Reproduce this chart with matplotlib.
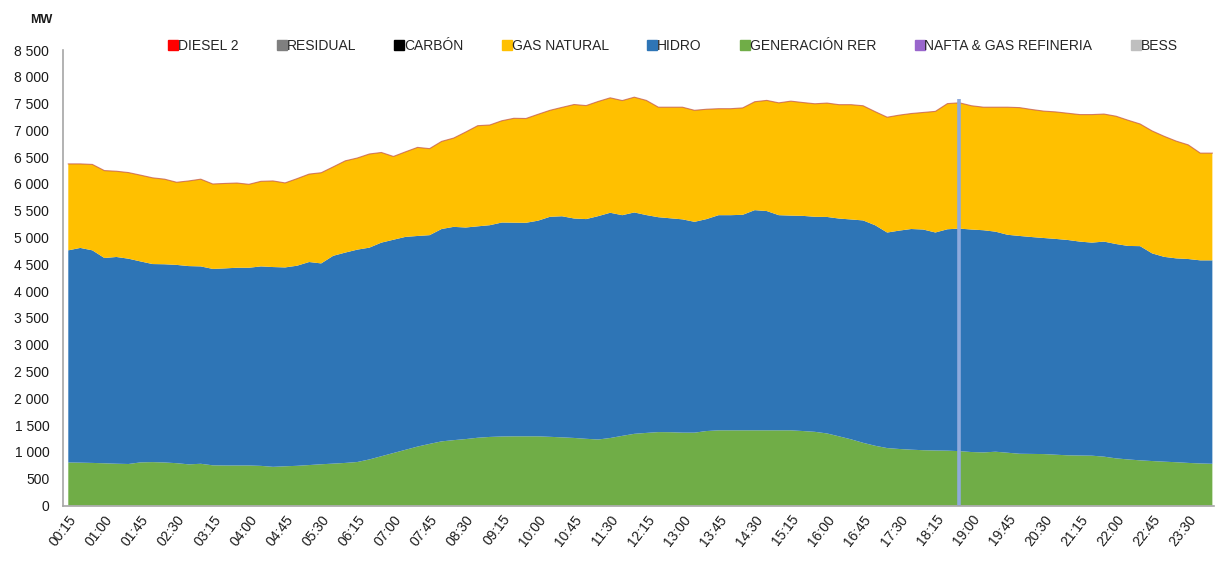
import matplotlib
matplotlib.use("Agg")
import matplotlib.pyplot as plt
from matplotlib.lines import Line2D
from matplotlib.ticker import FuncFormatter

plt.rcParams['font.family'] = ['Liberation Sans', 'DejaVu Sans']

# cuartos de hora 00:15 ... 24:00
horas = [f"{(m // 60):02d}:{(m % 60):02d}" for m in range(15, 24 * 60 + 15, 15)]

# MW por tecnologia (lectura del grafico)
rer = [803, 800, 795, 788, 780, 775, 805, 810, 803, 790, 768, 779, 750, 747, 747, 747,
       740, 722, 732, 741, 755, 770, 782, 795, 812, 860, 920, 980, 1040, 1100, 1150, 1197,
       1220, 1240, 1265, 1280, 1288, 1291, 1291, 1291, 1282, 1272, 1261, 1245, 1232, 1260, 1300, 1338,
       1355, 1370, 1368, 1360, 1360, 1390, 1403, 1403, 1403, 1403, 1403, 1403, 1403, 1390, 1375, 1345,
       1291, 1235, 1170, 1115, 1072, 1055, 1042, 1032, 1027, 1024, 1015, 998, 991, 1004, 985, 966,
       963, 960, 948, 937, 933, 930, 912, 880, 860, 843, 830, 818, 808, 795, 785, 779]
hidro = [3959, 4007, 3967, 3831, 3858, 3831, 3750, 3696, 3699, 3700, 3700, 3683, 3665, 3678, 3690, 3690,
         3722, 3728, 3711, 3734, 3789, 3748, 3878, 3925, 3963, 3952, 3986, 3980, 3973, 3930, 3895, 3963,
         3980, 3948, 3945, 3951, 3993, 3987, 3985, 4024, 4106, 4126, 4095, 4100, 4168, 4203, 4118, 4131,
         4065, 4010, 3992, 3980, 3934, 3955, 4015, 4015, 4022, 4109, 4092, 4015, 4007, 4015, 4013, 4040,
         4064, 4103, 4150, 4115, 4022, 4075, 4118, 4118, 4068, 4131, 4153, 4152, 4146, 4106, 4067, 4064,
         4047, 4032, 4027, 4018, 3992, 3976, 4013, 4000, 3984, 3997, 3875, 3822, 3804, 3805, 3790, 3796]
gas = [1613, 1568, 1603, 1631, 1600, 1607, 1610, 1609, 1588, 1542, 1589, 1628, 1585, 1585, 1581, 1557,
       1588, 1607, 1577, 1625, 1641, 1692, 1660, 1712, 1710, 1748, 1682, 1554, 1587, 1653, 1615, 1635,
       1657, 1782, 1878, 1870, 1899, 1948, 1946, 1985, 1987, 2032, 2127, 2118, 2140, 2145, 2139, 2151,
       2140, 2053, 2073, 2093, 2081, 2050, 1987, 1987, 1995, 2023, 2065, 2096, 2136, 2115, 2109, 2125,
       2125, 2142, 2140, 2120, 2152, 2155, 2155, 2185, 2260, 2345, 2347, 2310, 2296, 2323, 2381, 2395,
       2380, 2368, 2370, 2365, 2370, 2389, 2380, 2385, 2346, 2280, 2285, 2250, 2188, 2130, 2001, 2001]

leyenda = ["DIESEL 2", "RESIDUAL", "CARBÓN", "GAS NATURAL", "HIDRO",
           "GENERACIÓN RER", "NAFTA & GAS REFINERIA", "BESS"]
colores = ["#ff0000", "#7f7f7f", "#000000", "#ffc000", "#2e75b6",
           "#70ad47", "#9966cc", "#bfbfbf"]

hora_marca = "18:45"

x = list(range(len(horas)))
total = [a + b + c for a, b, c in zip(rer, hidro, gas)]

fig = plt.figure(figsize=(12.16, 5.62), dpi=100)
ax = fig.add_axes([0.052, 0.1005, 0.946, 0.8105])

ax.stackplot(x, rer, hidro, gas, colors=["#70ad47", "#2e75b6", "#ffc000"], linewidth=0)
ax.plot(x, total, color="#c0504d", lw=0.8, alpha=0.7)

i_marca = horas.index(hora_marca)
ax.vlines(i_marca, 0, 7580, color="#8faadc", lw=2.6)

ax.set_xlim(-0.42, 95.1)
ax.set_ylim(0, 8500)
ax.set_yticks(range(0, 8501, 500))
ax.yaxis.set_major_formatter(FuncFormatter(lambda v, p: f"{int(v):,}".replace(",", " ")))
ax.set_xticks(x[::3])
ax.set_xticklabels(horas[::3], rotation=52, ha="right", va="top", rotation_mode="anchor")
ax.tick_params(axis="y", length=0, pad=10, labelsize=10, labelcolor="#1a1a1a")
ax.tick_params(axis="x", length=0, pad=5, labelsize=10, labelcolor="#1a1a1a")

for s in ["top", "right"]:
    ax.spines[s].set_visible(False)
for s in ["left", "bottom"]:
    ax.spines[s].set_color("#a6a6a6")
    ax.spines[s].set_linewidth(1.2)

fig.text(0.025, 0.965, "MW", fontsize=9, fontweight="bold", va="center", color="#1a1a1a")

handles = [Line2D([], [], marker="s", linestyle="none", markersize=6.5,
                  markerfacecolor=c, markeredgecolor=c) for c in colores]
fig.legend(handles, leyenda, loc="center left", bbox_to_anchor=(0.129, 0.918), ncol=8,
           frameon=False, fontsize=10, handlelength=0.5, handletextpad=0.1,
           columnspacing=2.87, labelcolor="#262626")

fig.savefig("out.png", dpi=100)
